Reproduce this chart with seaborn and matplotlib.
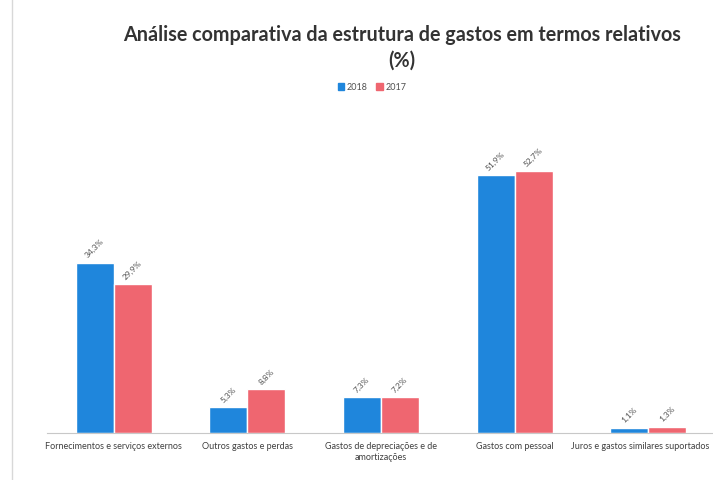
import seaborn as sns
import pandas as pd
import matplotlib.pyplot as plt
from matplotlib.lines import Line2D
from matplotlib.transforms import ScaledTranslation

categories = ["Fornecimentos e serviços externos", "Outros gastos e perdas",
              "Gastos de depreciações e de\namortizações", "Gastos com pessoal",
              "Juros e gastos similares suportados"]
years = ["2018", "2017"]
values_2018 = [34.3, 5.3, 7.3, 51.9, 1.1]
values_2017 = [29.9, 8.8, 7.2, 52.7, 1.3]

df = pd.DataFrame({
    "categoria": categories * 2,
    "ano": [years[0]] * 5 + [years[1]] * 5,
    "valor": values_2018 + values_2017,
})

sns.set_style("white")
plt.rcParams["font.family"] = ["Lato", "DejaVu Sans"]

W, H = 713, 481
fig = plt.figure(figsize=(W / 100, H / 100), dpi=100)
ax = fig.add_axes([47 / W, (H - 434) / H, 668 / W, 298 / H])

palette = {"2018": "#1f86dc", "2017": "#ef6670"}
sns.barplot(data=df, x="categoria", y="valor", hue="ano", palette=palette,
            width=0.57, gap=0.0, ax=ax, legend=False, saturation=1)

ax.set_ylim(0, 60)
ax.set_xlim(-0.5, 4.5)
ax.set_xlabel("")
ax.set_ylabel("")
ax.set_yticks([])
for s in ["left", "right", "top"]:
    ax.spines[s].set_visible(False)
ax.spines["bottom"].set_color("#c8c8c8")
ax.tick_params(axis="x", length=0, labelsize=6.5, colors="#404040", pad=6)

# last label sits at the right edge, nudge it inside
last = ax.get_xticklabels()[-1]
last.set_transform(last.get_transform() + ScaledTranslation(-8 / 100, 0, fig.dpi_scale_trans))

for cont in ax.containers:
    labels = [f"{v:.1f}%".replace(".", ",") for v in cont.datavalues]
    ax.bar_label(cont, labels=labels, rotation=45, fontsize=6, color="#505050",
                 padding=3)

fig.text(402 / W, 1 - 35 / H, "Análise comparativa da estrutura de gastos em termos relativos",
         ha="center", va="center", fontsize=14.2, fontweight="bold", color="#333333")
fig.text(402 / W, 1 - 61 / H, "(%)", ha="center", va="center", fontsize=14.2,
         fontweight="bold", color="#333333")

handles = [plt.Rectangle((0, 0), 1, 1, color=palette[y]) for y in years]
fig.legend(handles, years, loc="center", bbox_to_anchor=(372 / W, 1 - 88 / H), ncol=2,
           frameon=False, fontsize=6.5, handlelength=0.7, handleheight=0.7,
           handletextpad=0.3, columnspacing=1.0, labelcolor="#505050")

fig.add_artist(Line2D([12 / W, 12 / W], [0, 1], transform=fig.transFigure,
                      color="#d8d8d8", lw=1))

fig.savefig("out.png", dpi=100, facecolor="white")
